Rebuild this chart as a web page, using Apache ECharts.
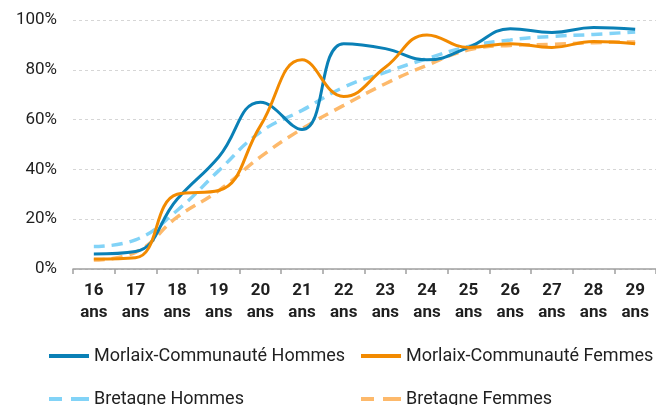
<!DOCTYPE html>
<html>
<head>
<meta charset="utf-8">
<script src="https://cdn.jsdelivr.net/npm/echarts@6/dist/echarts.min.js"></script>
<style>
  html, body { margin: 0; padding: 0; background: #fff; }
  #chart { width: 656px; height: 405px; }
</style>
</head>
<body>
<div id="chart"></div>
<script>
// Ages (x axis)
const ages = ['16\nans', '17\nans', '18\nans', '19\nans', '20\nans', '21\nans', '22\nans',
              '23\nans', '24\nans', '25\nans', '26\nans', '27\nans', '28\nans', '29\nans'];

// Shares in percent, by age
const morlaixHommes  = [6, 7, 28, 45, 67, 56, 90.5, 88.5, 84, 89, 96.5, 95, 97, 96.3];
const morlaixFemmes  = [4, 4.5, 30, 31.5, 57.5, 84, 69.3, 81, 94, 89, 90.5, 89, 91.4, 90.5];
const bretagneHommes = [9, 11.7, 23.5, 39.5, 55, 63.7, 73, 79, 84.5, 89.4, 92, 93.4, 94.2, 95.2];
const bretagneFemmes = [3.6, 6.7, 20.8, 31.5, 45, 56.3, 65.7, 74.4, 81.8, 88, 89.8, 90.2, 90.9, 91.2];

const yTicks = [0, 20, 40, 60, 80, 100];

const FONT = 'Roboto, "Liberation Sans", sans-serif';
const TEXT = '#1f1f1f';

const C_MH = '#0a80b6';
const C_MF = '#f28a00';
const C_BH = '#82d3f7';
const C_BF = '#fdb96b';

// legend swatches: a solid bar and a two-dash bar
const ICON_SOLID  = 'path://M0,0H40V4H0Z';
const ICON_DASHED = 'path://M0,0H13V4H0Z M22,0H40V4H22Z';

function lineSeries(name, data, color, dashed) {
  return {
    name: name,
    type: 'line',
    data: data,
    smooth: 0.45,
    symbol: 'none',
    showSymbol: false,
    lineStyle: {
      color: color,
      width: dashed ? 3.5 : 3,
      type: dashed ? [11, 7] : 'solid'
    },
    itemStyle: { color: color },
    emphasis: { disabled: true },
    z: dashed ? 2 : 3
  };
}

function legendItem(name, icon, left, top) {
  return {
    data: [{ name: name, icon: icon }],
    left: left,
    top: top,
    padding: 0,
    itemWidth: 40,
    itemHeight: 4,
    itemGap: 0,
    selectedMode: false,
    textStyle: { fontFamily: FONT, fontSize: 18, color: TEXT, lineHeight: 20, padding: [0, 0, 0, 0] }
  };
}

const chart = echarts.init(document.getElementById('chart'), null, { renderer: 'canvas' });

chart.setOption({
  animation: false,
  textStyle: { fontFamily: FONT },
  grid: { left: 73, top: 20, width: 588, height: 249, containLabel: false },
  legend: [
    legendItem('Morlaix-Communauté Hommes', ICON_SOLID, 49, 346),
    legendItem('Morlaix-Communauté Femmes', ICON_SOLID, 361, 346),
    legendItem('Bretagne Hommes', ICON_DASHED, 49, 389),
    legendItem('Bretagne Femmes', ICON_DASHED, 361, 389)
  ],
  xAxis: {
    type: 'category',
    data: ages,
    boundaryGap: true,
    axisLine: { lineStyle: { color: '#a0a0a0', width: 1.5 } },
    axisTick: { show: true, length: 5, lineStyle: { color: '#a0a0a0', width: 1.5 } },
    axisLabel: {
      interval: 0,
      margin: 11,
      fontFamily: FONT,
      fontSize: 17,
      fontWeight: 'bold',
      color: TEXT,
      lineHeight: 22
    },
    splitLine: { show: false }
  },
  yAxis: {
    type: 'value',
    min: yTicks[0],
    max: yTicks[yTicks.length - 1],
    interval: 20,
    axisLine: { show: false },
    axisTick: { show: false },
    axisLabel: {
      margin: 16,
      fontFamily: FONT,
      fontSize: 17,
      color: TEXT,
      formatter: '{value}%'
    },
    splitLine: { lineStyle: { color: '#d6d6d6', width: 1, type: [3, 3] } }
  },
  series: [
    lineSeries('Bretagne Hommes', bretagneHommes, C_BH, true),
    lineSeries('Bretagne Femmes', bretagneFemmes, C_BF, true),
    lineSeries('Morlaix-Communauté Hommes', morlaixHommes, C_MH, false),
    lineSeries('Morlaix-Communauté Femmes', morlaixFemmes, C_MF, false)
  ]
});
</script>
</body>
</html>
